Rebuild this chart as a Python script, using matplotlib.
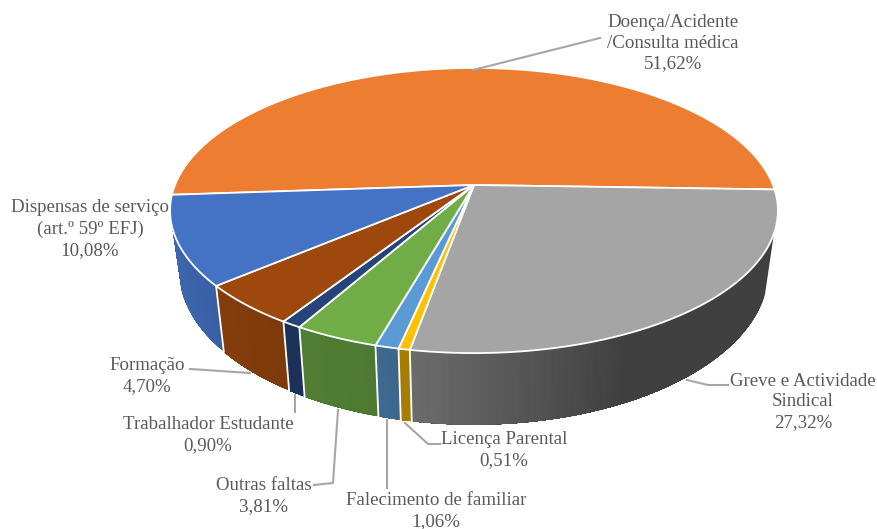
# Faltas por motivo - pie 3D com perspectiva
import numpy as np
import matplotlib
matplotlib.use('Agg')
import matplotlib.pyplot as plt

categorias = ['Doença/Acidente\n/Consulta médica', 'Greve e Actividade\nSindical', 'Licença Parental',
              'Falecimento de familiar', 'Outras faltas', 'Trabalhador Estudante', 'Formação',
              'Dispensas de serviço\n(art.º 59º EFJ)']
valores = [51.62, 27.32, 0.51, 1.06, 3.81, 0.90, 4.70, 10.08]
cores = ['#ed7d31', '#a5a5a5', '#ffc000', '#5b9bd5', '#70ad47', '#264478', '#9e480e', '#4472c4']
# sombra da parede lateral (inicio, fim) de cada fatia
sombra = [(1, 1), (0.39, 0.66), (0.65, 0.65), (0.66, 0.68), (0.70, 0.72), (0.72, 0.72), (0.80, 0.84), (0.84, 0.90)]

texto_cor = '#595959'
linha_cor = '#a6a6a6'
k = 0.179


def topo(t):
    t = np.radians(t)
    w = 1 + k * np.sin(t)
    return 474 + 299 * np.cos(t) / w, 185 - 138 * np.sin(t) / w


def base(t):
    t = np.radians(t)
    w = 1 + k * np.sin(t)
    return 474 + 290 * np.cos(t) / w, 242 - 150 * np.sin(t) / w


fig = plt.figure(figsize=(8.78, 5.29), dpi=100)
ax = fig.add_axes([0, 0, 1, 1])
ax.set_xlim(0, 878)
ax.set_ylim(529, 0)
ax.axis('off')

# angulos das fatias, sentido horario a partir da esquerda
inicio = 184.0
limites = inicio - np.cumsum([0] + valores) * 3.6

# parede lateral, so a parte visivel da frente (-19 a -163 graus)
for i in range(len(valores)):
    ts = np.linspace(limites[i], limites[i + 1], 80)
    ts = ts[(ts <= -19) & (ts >= -163)]
    if len(ts) < 2:
        continue
    cor = np.array(matplotlib.colors.to_rgb(cores[i]))
    # cada faixa vai ate ao fim da fatia para nao deixar riscos entre faixas
    for j in range(len(ts) - 1):
        if i == 1:
            f = np.interp(ts[j], [limites[2], -65], [sombra[1][1], sombra[1][0]])
        else:
            f = sombra[i][0] + (sombra[i][1] - sombra[i][0]) * j / (len(ts) - 2)
        xt, yt = topo(ts[j:])
        xb, yb = base(ts[j:])
        ax.fill(np.r_[xt, xb[::-1]], np.r_[yt, yb[::-1]], color=cor * f, lw=0, zorder=1)

# separadores da parede
for a in limites[2:-1]:
    x0, y0 = topo(a)
    x1, y1 = base(a)
    ax.plot([x0, x1], [y0, y1], color='white', lw=1.3, zorder=2)

# tampa
for i in range(len(valores)):
    ts = np.linspace(limites[i], limites[i + 1], 200)
    xs, ys = topo(ts)
    ax.fill(np.r_[474, xs], np.r_[185, ys], facecolor=cores[i], edgecolor='white', lw=1.3, zorder=3)

# linhas de chamada
chamadas = [([473, 600], [70, 38]),
            ([687, 708, 728], [380, 385, 385]),
            ([405, 428, 440], [423, 444, 444]),
            ([387, 387], [420, 488]),
            ([338, 333, 314], [410, 483, 485]),
            ([295, 295], [395, 412]),
            ([190, 250], [369, 373])]
for xs, ys in chamadas:
    ax.plot(xs, ys, color=linha_cor, lw=1.5, zorder=4)

# rotulos
posicoes = [(673, 43), (803, 402), (504, 450), (436, 511), (264, 496), (208, 435), (147, 376), (90, 229)]
for nome, v, (x, y) in zip(categorias, valores, posicoes):
    rotulo = nome + '\n' + f'{v:.2f}'.replace('.', ',') + '%'
    ax.text(x, y, rotulo, ha='center', va='center', fontsize=13.6, family='Liberation Serif',
            color=texto_cor, linespacing=1.3, zorder=5)

plt.savefig('out.png', dpi=100)
